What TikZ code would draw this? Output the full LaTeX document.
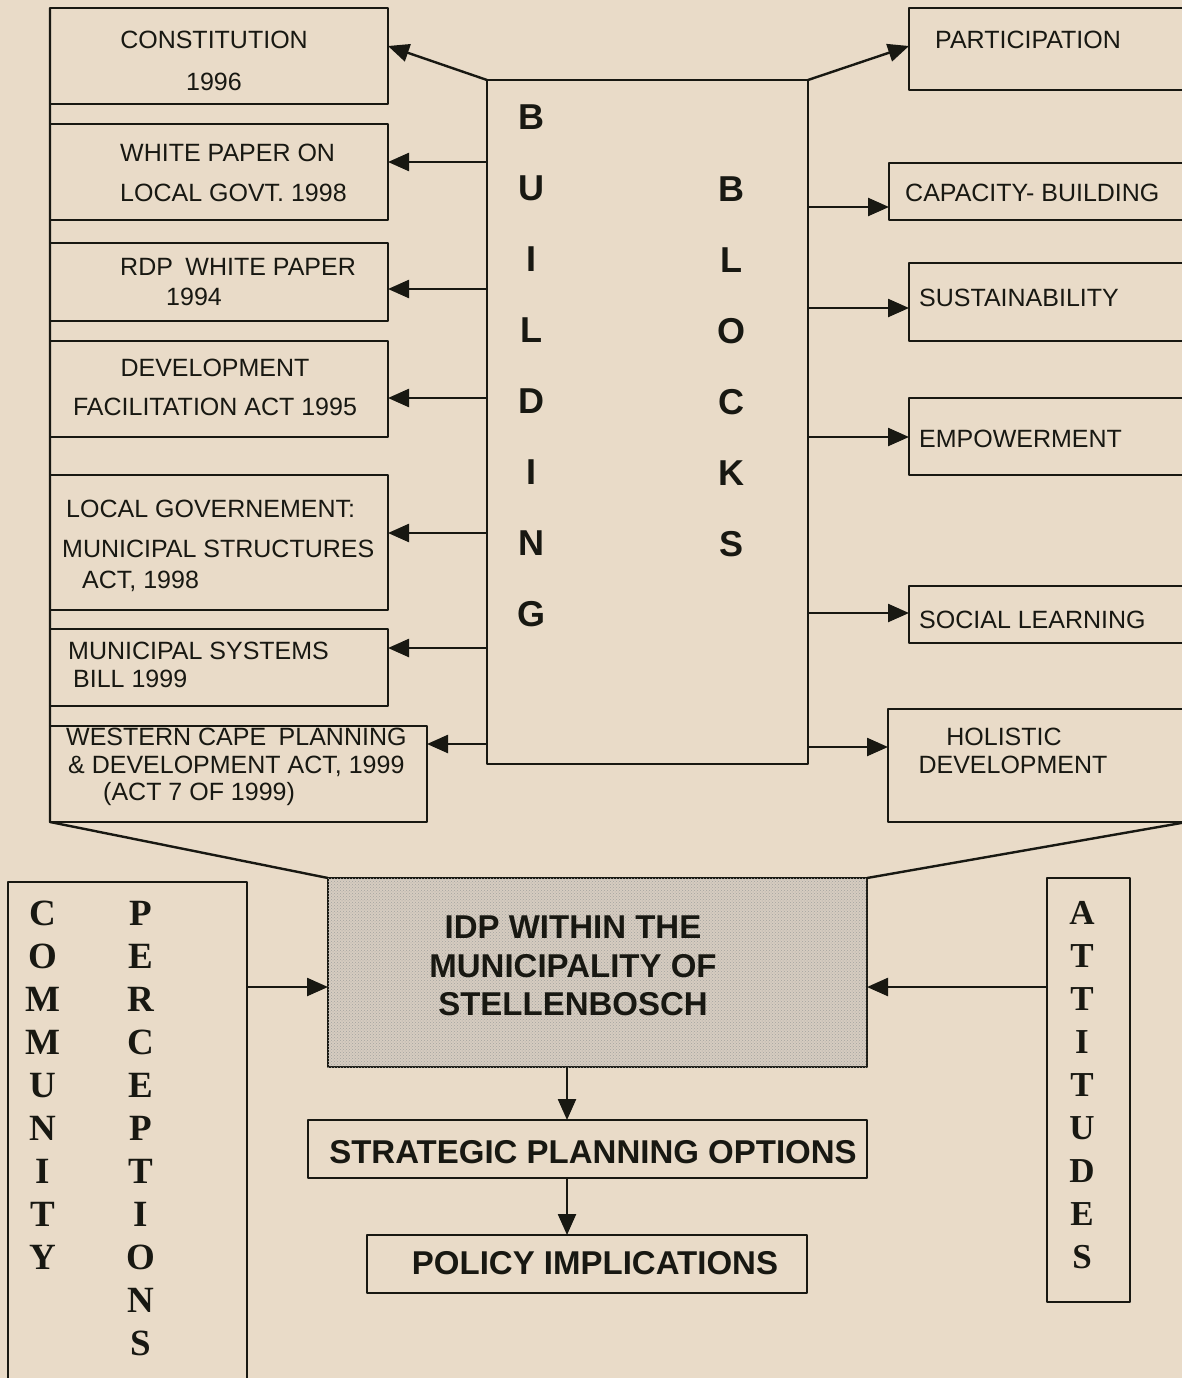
\documentclass[tikz,border=0pt]{standalone}
\usepackage{fontspec}
\setmainfont{Liberation Sans}
\newfontfamily\timesfont{Liberation Serif}
\usetikzlibrary{arrows.meta,patterns}
\definecolor{paper}{RGB}{233,219,200}
\definecolor{ink}{RGB}{24,24,18}
\definecolor{idpfill}{RGB}{214,204,192}
% box by its corners: name, x1, y1, x2, y2
\newcommand{\boxnode}[6][]{\node[box,#1,minimum width={(#5)-(#3)},minimum height={(#6)-(#4)}] (#2) at ({((#3)+(#5))/2},{((#4)+(#6))/2}) {};}
\tikzset{
  box/.style={draw=ink, line width=2.4pt, inner sep=0pt, outer sep=0pt},
  txt/.style={inner sep=0pt, text=ink, font=\fontsize{25}{40}\selectfont},
  bold/.style={inner sep=0pt, text=ink, align=center, font=\fontsize{33}{38.5}\selectfont\bfseries},
  bigl/.style={inner sep=0pt, text=ink, text height=25pt, text depth=0pt, font=\fontsize{36}{40}\selectfont\bfseries},
  seril/.style={inner sep=0pt, text=ink, text height=24.5pt, text depth=0pt, font=\fontsize{37}{40}\selectfont\timesfont\bfseries},
  arr/.style={draw=ink, line width=2.4pt, -{Triangle[length=21pt,width=18pt]}},
  link/.style={draw=ink, line width=2.4pt}
}
\begin{document}
\begin{tikzpicture}[x=1pt, y=-1pt, line join=round]
\fill[paper] (0,0) rectangle (1182,1378);
\useasboundingbox (0,0) rectangle (1182,1378);
% left column
\boxnode{con}{50}{8}{388}{104}
\boxnode{wp}{50}{124}{388}{220}
\boxnode{rdp}{50}{243}{388}{321}
\boxnode{dev}{50}{341}{388}{437}
\boxnode{lg}{50}{475}{388}{610}
\boxnode{ms}{50}{629}{388}{706}
\boxnode{wc}{50}{726}{427}{822}
\node[txt, align=center, anchor=north] (con-t) at (214,31) {CONSTITUTION\\[2pt]1996};
\node[txt, align=left, anchor=north west] (wp-t) at (120,144) {WHITE PAPER ON\\LOCAL GOVT. 1998};
\node[txt, align=left, anchor=north west] (rdp-t) at (120,258) {RDP\enspace WHITE PAPER\\[-10pt]\hspace*{46pt}1994};
\node[txt, align=center, anchor=north] (dev-t) at (215,359) {DEVELOPMENT\\[-1pt]FACILITATION ACT 1995};
\node[txt, align=left, anchor=north west] (lg-t) at (66,500) {LOCAL GOVERNEMENT:\\\hspace*{-4pt}MUNICIPAL STRUCTURES\\[-9pt]\hspace*{16pt}ACT, 1998};
\node[txt, align=left, anchor=north west] (ms-t) at (68,642) {MUNICIPAL SYSTEMS\\[-12pt]\hspace*{5pt}BILL 1999};
\node[txt, align=left, anchor=north west] (wc-t) at (66,728) {WESTERN CAPE\enspace PLANNING\\[-12.5pt]\hspace*{2pt}\& DEVELOPMENT ACT, 1999\\[-12.5pt]\hspace*{37pt}(ACT 7 OF 1999)};
% building blocks
\boxnode{bb}{487}{80}{808}{764}
\foreach \l [count=\i] in {B,U,I,L,D,I,N,G}
  \node[bigl] (bu-\i) at (531,{117+71*(\i-1)}) {\l};
\foreach \l [count=\i] in {B,L,O,C,K,S}
  \node[bigl] (bk-\i) at (731,{189+71*(\i-1)}) {\l};
% right column
\boxnode{par}{909}{8}{1187}{90}
\boxnode{cap}{889}{163}{1187}{220}
\boxnode{sus}{909}{263}{1187}{341}
\boxnode{emp}{909}{398}{1187}{475}
\boxnode{soc}{909}{586}{1187}{643}
\boxnode{hol}{888}{709}{1187}{822}
\node[txt, anchor=north west] (par-t) at (935,31) {PARTICIPATION};
\node[txt, anchor=north west] (cap-t) at (905,184) {CAPACITY- BUILDING};
\node[txt, anchor=north west] (sus-t) at (919,289) {SUSTAINABILITY};
\node[txt, anchor=north west] (emp-t) at (919,430) {EMPOWERMENT};
\node[txt, anchor=north west] (soc-t) at (919,611) {SOCIAL LEARNING};
\node[txt, align=center, anchor=north] (hol-t) at (1013,728) {\hspace*{-18pt}HOLISTIC\\[-12pt]DEVELOPMENT};
% centre
\boxnode[fill=idpfill, postaction={pattern=crosshatch dots, pattern color=ink!40}]{idp}{328}{878}{867}{1067}
\boxnode{str}{308}{1120}{867}{1178}
\boxnode{pol}{367}{1235}{807}{1293}
\node[bold, anchor=north] (idp-t) at (573,916) {IDP WITHIN THE\\MUNICIPALITY OF\\STELLENBOSCH};
\node[bold, anchor=north] (str-t) at (593,1140) {STRATEGIC PLANNING OPTIONS};
\node[bold, anchor=north] (pol-t) at (595,1251) {POLICY IMPLICATIONS};
% community perceptions, attitudes
\boxnode{com}{8}{882}{247}{1392}
\boxnode{att}{1047}{878}{1130}{1302}
\foreach \l [count=\i] in {C,O,M,M,U,N,I,T,Y}
  \node[seril] (cm-\i) at (43,{913+43*(\i-1)}) {\l};
\foreach \l [count=\i] in {P,E,R,C,E,P,T,I,O,N,S}
  \node[seril] (pc-\i) at (141,{913+43*(\i-1)}) {\l};
\foreach \l [count=\i] in {A,T,T,I,T,U,D,E,S}
  \node[seril, font=\fontsize{35}{40}\selectfont\timesfont\bfseries] (at-\i) at (1082,{912+43*(\i-1)}) {\l};
% connectors
\draw[link] (con.north west) -- (wc.south west) -- (idp.north west);
\draw[link] (hol.south east) -- (idp.north east);
\draw[arr] (bb.north west) -- (con.east |- 0,46);
\draw[arr] (bb.north east) -- (par.west |- 0,46);
\foreach \nm/\yy in {wp/162, rdp/289, dev/398, lg/533, ms/648, wc/744}
  \draw[arr] (bb.west |- 0,\yy) -- (\nm.east |- 0,\yy);
\foreach \nm/\yy in {cap/207, sus/308, emp/437, soc/613, hol/747}
  \draw[arr] (bb.east |- 0,\yy) -- (\nm.west |- 0,\yy);
\draw[arr] (com.east |- 0,987) -- (idp.west |- 0,987);
\draw[arr] (att.west |- 0,987) -- (idp.east |- 0,987);
\draw[arr] (idp.south -| 567,0) -- (str.north -| 567,0);
\draw[arr] (str.south -| 567,0) -- (pol.north -| 567,0);
\end{tikzpicture}
\end{document}
